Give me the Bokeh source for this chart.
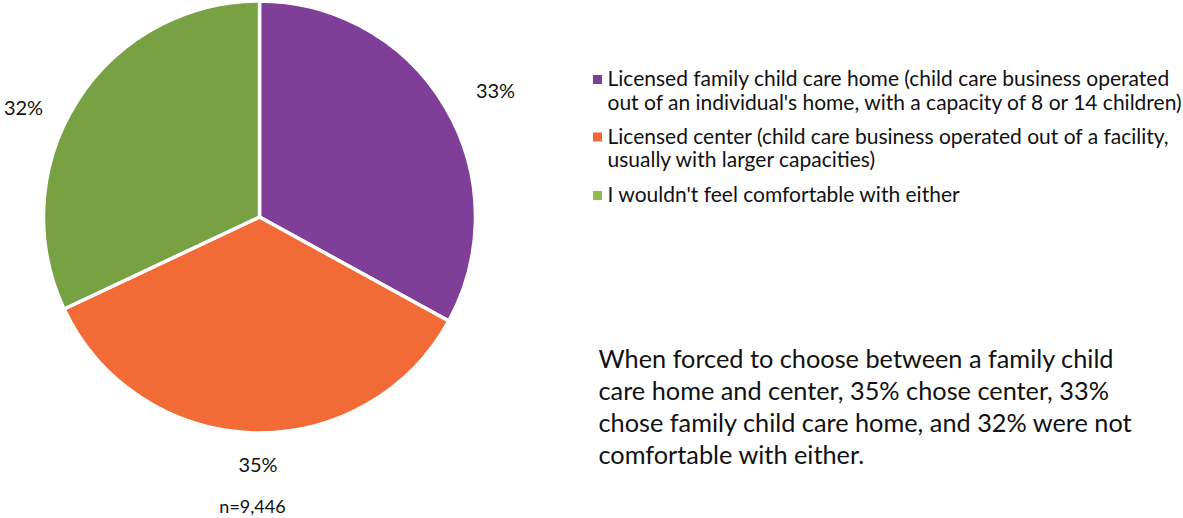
import math
from bokeh.plotting import figure
from bokeh.models import Range1d, ColumnDataSource
from bokeh.core.properties import value
from bokeh.embed import file_html
from bokeh.resources import INLINE

# ---- data ----
categories = [
    "Licensed family child care home",
    "Licensed center",
    "I wouldn't feel comfortable with either",
]
shares = [33, 35, 32]
pct_labels = ["33%", "35%", "32%"]
legend_lines = [
    ["Licensed family child care home (child care business operated",
     "out of an individual's home, with a capacity of 8 or 14 children)"],
    ["Licensed center (child care business operated out of a facility,",
     "usually with larger capacities)"],
    ["I wouldn't feel comfortable with either"],
]
note_lines = [
    "When forced to choose between a family child",
    "care home and center, 35% chose center, 33%",
    "chose family child care home, and 32% were not",
    "comfortable with either.",
]
n_label = "n=9,446"

# ---- style / layout ----
slice_colors = ["#7F3F98", "#F26A35", "#77A143"]
legend_colors = ["#7F3F98", "#F26A35", "#8EBD4E"]
FONT = "Lato"
W, H = 1183, 518
TDY = 9  # svg text baseline correction (px)


def py(img_y):
    return H - img_y


def ty_(img_y):
    return H - (img_y - TDY)


def px(img_x):
    return img_x


p = figure(width=W, height=H, output_backend="svg", toolbar_location=None,
           x_range=Range1d(0, W), y_range=Range1d(0, H), min_border=0)
p.axis.visible = False
p.grid.visible = False
p.outline_line_color = None
p.background_fill_color = "white"
p.border_fill_color = "white"

# pie
cx, cy, R = px(259), py(216.5), 216
total = float(sum(shares))
starts, ends = [], []
cum = 0.0
for s in shares:
    a0 = math.pi / 2 - 2 * math.pi * cum / total
    cum += s
    a1 = math.pi / 2 - 2 * math.pi * cum / total
    starts.append(a1)
    ends.append(a0)
src = ColumnDataSource(dict(start=starts, end=ends, color=slice_colors,
                            cat=categories, val=shares))
p.wedge(x=cx, y=cy, radius=R, start_angle="start", end_angle="end",
        fill_color="color", line_color="white", line_width=3.5, source=src)

# percentage labels (outside)
label_xy = [(495, 98.5), (257.5, 472), (23, 115)]  # centre x, baseline y (image px)
p.text(x=[px(a) for a, b in label_xy], y=[ty_(b) for a, b in label_xy],
       text=pct_labels, text_font=value(FONT), text_font_size="20px",
       text_align="center", text_baseline="alphabetic", text_color="#111111")

p.text(x=[px(252)], y=[ty_(514)], text=[n_label], text_font=value(FONT),
       text_font_size="18px", text_align="center", text_baseline="alphabetic",
       text_color="#111111")

# legend
item_baselines = [[86, 110], [143.5, 167], [202]]
sq_x, sq_y, tx, tyl = [], [], [], []
texts = []
for i, lines in enumerate(legend_lines):
    sq_x.append(px(597))
    sq_y.append(py(item_baselines[i][0] - 7))
    for j, t in enumerate(lines):
        tx.append(px(607))
        tyl.append(ty_(item_baselines[i][j]))
        texts.append(t)
p.rect(x=sq_x, y=sq_y, width=9, height=9, fill_color=legend_colors,
       line_color=None)
p.text(x=tx, y=tyl, text=texts, text_font=value(FONT), text_font_size="21px",
       text_align="left", text_baseline="alphabetic", text_color="#111111")

# note
note_base = [366, 398, 430, 462]
p.text(x=[px(598)] * len(note_lines), y=[ty_(b) for b in note_base],
       text=note_lines, text_font=value(FONT), text_font_size="25.3px",
       text_align="left", text_baseline="alphabetic", text_color="#111111")

open("out.html", "w").write(file_html(p, INLINE))
